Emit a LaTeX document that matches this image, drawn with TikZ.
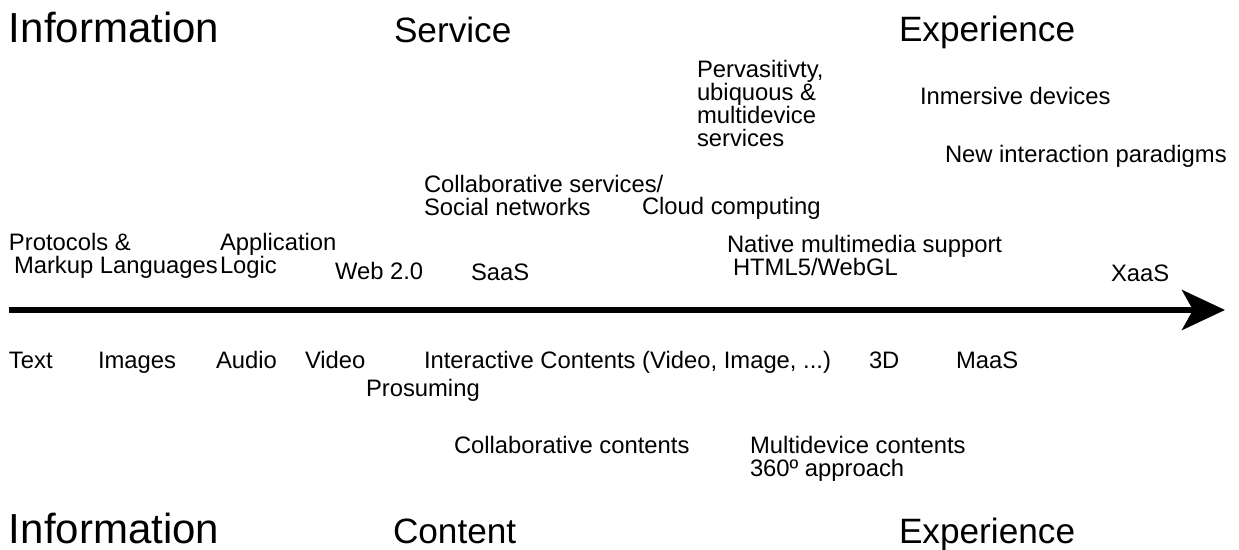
\documentclass[tikz,border=0pt]{standalone}
\usepackage{fontspec}
\setmainfont{Liberation Sans}
\usepackage{tikz}
\usetikzlibrary{arrows.meta,positioning}

\begin{document}
\begin{tikzpicture}[y=-0.50pt, x=0.50pt, inner sep=0pt, outer sep=0pt,
lbl/.style={anchor=base west, align=left, font=\fontsize{11.9pt}{11.5pt}\selectfont},
ttl/.style={anchor=base west, font=\fontsize{17.6pt}{20pt}\selectfont},
bigttl/.style={anchor=base west, font=\fontsize{21pt}{24pt}\selectfont},
axis/.style={line width=3pt, -{Stealth[length=21.5pt, width=20pt, inset=5.5pt]}}]
\useasboundingbox (0,0) rectangle (1239,550);
% titles
\node[bigttl](InfoTop) at (9,43) {Information};
\node[ttl](SrvTop) at (394,43) {Service};
\node[ttl](ExpTop) at (899,42) {Experience};
\node[bigttl](InfoBot)[below = 250.5pt of InfoTop.base west, anchor=base west] {Information};
\node[ttl](CntBot) at (393,544) {Content};
\node[ttl](ExpBot)[below = 251pt of ExpTop.base west, anchor=base west] {Experience};
% above the axis (multi-line nodes sit on their last line)
\node[lbl](Perv) at (697,147) {Pervasitivty,\\ubiquous \&\\multidevice\\services};
\node[lbl](Inm) at (920,105) {Inmersive devices};
\node[lbl](NewInt) at (945,163) {New interaction paradigms};
\node[lbl](CollSrv) at (424,216) {Collaborative services/\\Social networks};
\node[lbl](Cloud) at (642,215) {Cloud computing};
\node[lbl](Proto) at (9,274) {Protocols \&\\\hspace*{2.5pt}Markup Languages};
\node[lbl](Appl) at (220,274) {Application\\Logic};
\node[lbl](Web) at (335,280) {Web 2.0};
\node[lbl](SaaS) at (471,281) {SaaS};
\node[lbl](Native) at (727,276) {Native multimedia support\\\hspace*{3pt}HTML5/WebGL};
\node[lbl](XaaS) at (1111,282) {XaaS};
% axis
\coordinate (AxStart) at (9,310);
\coordinate (AxTip) at (1225,310);
\draw[axis] (AxStart) -- (AxTip);
% below the axis
\node[lbl](Txt) at (9,369) {Text};
\node[lbl](Img) at (98,369) {Images};
\node[lbl](Aud) at (216,369) {Audio};
\node[lbl](Vid) at (305,369) {Video};
\node[lbl](Inter) at (424,369) {Interactive Contents (Video, Image, ...)};
\node[lbl](ThreeD) at (869,369) {3D};
\node[lbl](MaaS) at (956,369) {MaaS};
\node[lbl](Pros) at (366,397) {Prosuming};
\node[lbl](CollCnt) at (454,454) {Collaborative contents};
\node[lbl](Multi) at (750,477) {Multidevice contents\\360º approach};
\end{tikzpicture}
\end{document}
